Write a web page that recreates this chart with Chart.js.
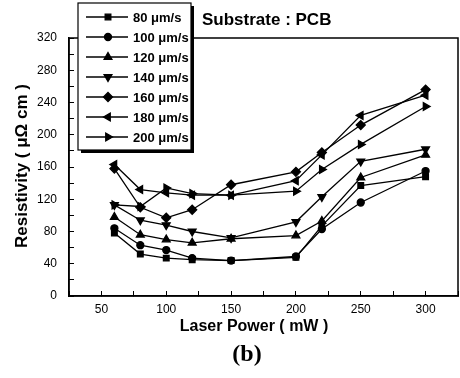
<!DOCTYPE html>
<html>
<head>
<meta charset="utf-8">
<script src="https://cdn.jsdelivr.net/npm/chart.js@4.4.1/dist/chart.umd.min.js"></script>
<style>
  html, body { margin: 0; padding: 0; background: #fff; }
  #wrap { position: relative; width: 460px; height: 378px; }
</style>
</head>
<body>
<div id="wrap"><canvas id="chart" width="460" height="378"></canvas></div>
<script>
// Laser power (mW) on the x axis
const power = [60, 80, 100, 120, 150, 200, 220, 250, 300];

// Resistivity (uOhm cm) for each scan speed
const r80  = [78, 52, 47, 45, 44, 48, 87, 137, 148];
const r100 = [84, 63, 57, 47, 44, 49, 83, 116, 155];
const r120 = [98, 76, 70, 66, 71, 75, 93, 147, 175];
const r140 = [113, 94, 88, 80, 72, 92, 123, 167, 182];
const r160 = [158, 110, 97, 107, 138, 154, 178, 212, 256];
const r180 = [163, 132, 128, 125, 125, 143, 175, 224, 249];
const r200 = [113, 111, 134, 127, 125, 130, 157, 188, 235];

const speedLabels = ['80 μm/s', '100 μm/s', '120 μm/s', '140 μm/s', '160 μm/s', '180 μm/s', '200 μm/s'];
const seriesValues = [r80, r100, r120, r140, r160, r180, r200];

// marker shape per series: square, circle, up, down, diamond, left, right
const markers = [
  { style: 'rect', rot: 0, r: 4 },
  { style: 'circle', rot: 0, r: 3.5 },
  { style: 'triangle', rot: 0, r: 4.5 },
  { style: 'triangle', rot: 180, r: 4.5 },
  { style: 'rectRot', rot: 0, r: 4.5 },
  { style: 'triangle', rot: -90, r: 4.5 },
  { style: 'triangle', rot: 90, r: 4.5 }
];

const yTicks = [0, 40, 80, 120, 160, 200, 240, 280, 320];
const xTicks = [50, 100, 150, 200, 250, 300];

const FONT = "'Liberation Sans', Arial, sans-serif";

const datasets = seriesValues.map((vals, i) => ({
  label: speedLabels[i],
  data: power.map((p, j) => ({ x: p, y: vals[j] })),
  borderColor: '#000',
  borderWidth: 1.3,
  backgroundColor: '#000',
  pointBackgroundColor: '#000',
  pointBorderColor: '#000',
  pointStyle: markers[i].style,
  pointRotation: markers[i].rot,
  pointRadius: markers[i].r,
  tension: 0,
  fill: false
}));

function drawMarker(ctx, m, x, y) {
  if (Chart.helpers && Chart.helpers.drawPoint) {
    Chart.helpers.drawPoint(ctx, { pointStyle: m.style, rotation: m.rot, radius: m.r, borderWidth: 1 }, x, y);
  }
}

// frame, legend box and free text
const extras = {
  id: 'extras',
  afterDatasetsDraw(chart) {
    const ctx = chart.ctx;
    const a = chart.chartArea;
    ctx.save();
    ctx.strokeStyle = '#000';
    ctx.lineWidth = 1.5;
    ctx.strokeRect(a.left, a.top, a.right - a.left, a.bottom - a.top);

    // legend with a drop shadow
    const lx = 78, ly = 3, lw = 113, lh = 147;
    ctx.fillStyle = '#000';
    ctx.fillRect(lx + 3, ly + 3, lw, lh);
    ctx.fillStyle = '#fff';
    ctx.fillRect(lx, ly, lw, lh);
    ctx.lineWidth = 1.2;
    ctx.strokeRect(lx, ly, lw, lh);

    ctx.font = 'bold 13px ' + FONT;
    ctx.textBaseline = 'middle';
    ctx.textAlign = 'left';
    speedLabels.forEach((lab, i) => {
      const y = ly + 14 + i * 20;
      ctx.strokeStyle = '#000';
      ctx.lineWidth = 1.3;
      ctx.beginPath();
      ctx.moveTo(lx + 8, y);
      ctx.lineTo(lx + 50, y);
      ctx.stroke();
      ctx.fillStyle = '#000';
      ctx.strokeStyle = '#000';
      drawMarker(ctx, markers[i], lx + 30, y);
      ctx.fillStyle = '#000';
      ctx.fillText(lab, lx + 55, y + 1);
    });

    ctx.fillStyle = '#000';
    ctx.font = 'bold 17px ' + FONT;
    ctx.textAlign = 'left';
    ctx.textBaseline = 'alphabetic';
    ctx.fillText('Substrate : PCB', 202, 25);

    ctx.textAlign = 'center';
    ctx.textBaseline = 'middle';
    ctx.font = 'bold 16px ' + FONT;
    ctx.fillText('Laser Power ( mW )', 254, 327);

    ctx.font = 'bold 24px "Liberation Serif", "Times New Roman", serif';
    ctx.fillText('(b)', 247, 355);

    ctx.save();
    ctx.translate(22, 166);
    ctx.rotate(-Math.PI / 2);
    ctx.font = 'bold 17px ' + FONT;
    ctx.fillText('Resistivity ( μΩ cm )', 0, 0);
    ctx.restore();

    ctx.restore();
  }
};

new Chart(document.getElementById('chart'), {
  type: 'line',
  data: { datasets: datasets },
  options: {
    responsive: false,
    devicePixelRatio: 1,
    animation: false,
    layout: { autoPadding: false, padding: { top: 38, right: 2, left: 0, bottom: 0 } },
    plugins: {
      legend: { display: false },
      tooltip: { enabled: false }
    },
    scales: {
      x: {
        type: 'linear',
        min: 25,
        max: 325,
        afterFit: s => { s.height = 82; },
        afterBuildTicks: s => {
          s.ticks = [];
          for (let v = 25; v <= 325; v += 25) s.ticks.push({ value: v });
        },
        border: { display: true, color: '#000', width: 1.5 },
        grid: { drawOnChartArea: false, drawTicks: true, tickLength: -5, color: '#000', tickColor: '#000' },
        ticks: {
          // small padding keeps the plot reaching the right edge; the tall line height pushes labels down
          padding: 2,
          color: '#000',
          font: { family: FONT, size: 12, lineHeight: '33px' },
          maxRotation: 0,
          autoSkip: false,
          callback: v => xTicks.includes(v) ? String(v) : ''
        }
      },
      y: {
        min: 0,
        max: 320,
        afterFit: s => { s.width = 69; },
        afterBuildTicks: s => {
          s.ticks = [];
          for (let v = 0; v <= 320; v += 20) s.ticks.push({ value: v });
        },
        border: { display: true, color: '#000', width: 1.5 },
        grid: { drawOnChartArea: false, drawTicks: true, tickLength: -5, color: '#000', tickColor: '#000' },
        ticks: {
          padding: 17,
          color: '#000',
          font: { family: FONT, size: 12 },
          autoSkip: false,
          callback: v => yTicks.includes(v) ? String(v) : ''
        }
      }
    }
  },
  plugins: [extras]
});
</script>
</body>
</html>
